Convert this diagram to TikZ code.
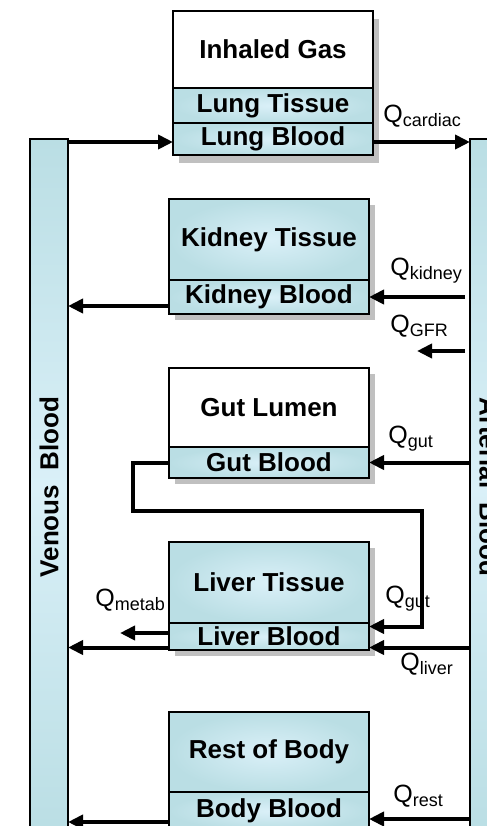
\documentclass[tikz,border=0pt]{standalone}
\usepackage{fontspec}
\setmainfont{Liberation Sans}
\usepackage{tikz}
\usetikzlibrary{arrows.meta, positioning, backgrounds}

\definecolor{boxblue}{RGB}{186,222,228}
\definecolor{boxlight}{RGB}{218,240,248}
\definecolor{shadowgray}{RGB}{192,192,192}

\newcommand{\flow}[1]{Q\raisebox{-2pt}{\fontsize{9}{9}\selectfont #1}}

\begin{document}
\begin{tikzpicture}[x=0.5pt, y=-0.5pt,
    comp/.style={rectangle, draw, line width=1.2pt, minimum width=100pt, inner sep=0pt, outer sep=0pt, font=\fontsize{13}{15}\selectfont\bfseries},
    tissue/.style={comp, inner color=boxlight, outer color=boxblue},
    lumen/.style={comp, fill=white},
    pool/.style={rectangle, draw, line width=1.2pt, minimum width=348pt, minimum height=19pt, inner sep=0pt, outer sep=0pt, top color=boxblue, bottom color=boxblue, middle color=boxlight, font=\fontsize{13}{15}\selectfont\bfseries},
    arr/.style={-{Triangle[length=7.5pt, width=7pt]}, line width=2pt},
    qlab/.style={anchor=base west, inner sep=0pt, font=\fontsize{12.5}{14}\selectfont}
]
\useasboundingbox (0,0) rectangle (487,826);
\clip (0,0) rectangle (487,826);

% blood pools
\node[pool, rotate=90] (ven) at (49,487) {Venous\ \ Blood};
\node[pool, rotate=-90] (art) at (489,487) {Arterial\ \ Blood};
\coordinate (artgap) at ([xshift=-2.5pt]art.south);

% compartments
\node[lumen, anchor=north west, minimum height=38.5pt] (gas) at (173,11) {Inhaled Gas};
\node[tissue, below=0pt of gas, minimum height=17.5pt] (lungt) {Lung Tissue};
\node[tissue, below=0pt of lungt, minimum height=16pt] (lungb) {Lung Blood};

\node[tissue, anchor=north west, minimum height=40.5pt] (kidt) at (169,199) {Kidney Tissue};
\node[tissue, below=0pt of kidt, minimum height=17pt] (kidb) {Kidney Blood};

\node[lumen, anchor=north west, minimum height=39.5pt] (gutl) at (169,368) {Gut Lumen};
\node[tissue, below=0pt of gutl, minimum height=15.5pt] (gutb) {Gut Blood};

\node[tissue, anchor=north west, minimum height=40.5pt] (livt) at (169,542) {Liver Tissue};
\node[tissue, below=0pt of livt, minimum height=13.5pt] (livb) {Liver Blood};

\node[tissue, anchor=north west, minimum height=40pt] (bodyt) at (169,712) {Rest of Body};
\node[tissue, below=0pt of bodyt, minimum height=19pt] (bodyb) {Body Blood};

% shadows
\begin{scope}[on background layer]
\fill[shadowgray] ([shift={(3pt,-4pt)}]gas.north west) rectangle ([shift={(3pt,-4pt)}]lungb.south east);
\fill[shadowgray] ([shift={(3pt,-3pt)}]kidt.north west) rectangle ([shift={(3pt,-3pt)}]kidb.south east);
\fill[shadowgray] ([shift={(3pt,-3pt)}]gutl.north west) rectangle ([shift={(3pt,-3pt)}]gutb.south east);
\fill[shadowgray] ([shift={(3pt,-3pt)}]livt.north west) rectangle ([shift={(3pt,-3pt)}]livb.south east);
\end{scope}

% lung
\coordinate (lungin) at ([yshift=-1.5pt]lungb.west);
\coordinate (lungout) at ([yshift=-1.5pt]lungb.east);
\draw[arr] (lungin -| ven.south) -- (lungin);
\draw[arr] (lungout) -- (lungout -| art.south);

% kidney
\coordinate (kidout) at ([yshift=-4.5pt]kidb.west);
\coordinate (gfr) at (417,351);
\draw[arr] (kidb.east -| artgap) -- (kidb.east);
\draw[arr] (kidout) -- (kidout -| ven.south);
\draw[arr] (gfr -| artgap) -- (gfr);

% gut and liver
\coordinate (loop) at (422,511);
\coordinate (livin) at ([yshift=5pt]livb.east);
\coordinate (livout) at ([yshift=-5.5pt]livb.west);
\coordinate (livart) at ([yshift=-5.5pt]livb.east);
\coordinate (metab) at (120,633);
\draw[arr] (gutb.east -| art.south) -- (gutb.east);
\draw[arr] (gutb.west) -- ++(-36,0) |- (loop) |- (livin);
\draw[arr] (livb.west |- metab) -- (metab);
\draw[arr] (livout) -- (livout -| ven.south);
\draw[arr] (livart -| art.south) -- (livart);

% rest of body
\coordinate (bodyin) at ([yshift=-4pt]bodyb.east);
\coordinate (bodyout) at ([yshift=-5.5pt]bodyb.west);
\draw[arr] (bodyin -| art.south) -- (bodyin);
\draw[arr] (bodyout) -- (bodyout -| ven.south);

% flow labels
\node[qlab] (qcard) at (383,122) {\flow{cardiac}};
\node[qlab] (qkid) at (390,275) {\flow{kidney}};
\node[qlab] (qgfr) at (390,332) {\flow{GFR}};
\node[qlab] (qgut) at (388,443) {\flow{gut}};
\node[qlab] (qmet) at (95,606) {\flow{metab}};
\node[qlab] (qgut2) at (385,603) {\flow{gut}};
\node[qlab] (qliv) at (400,670) {\flow{liver}};
\node[qlab] (qrest) at (393,802) {\flow{rest}};
\end{tikzpicture}
\end{document}
